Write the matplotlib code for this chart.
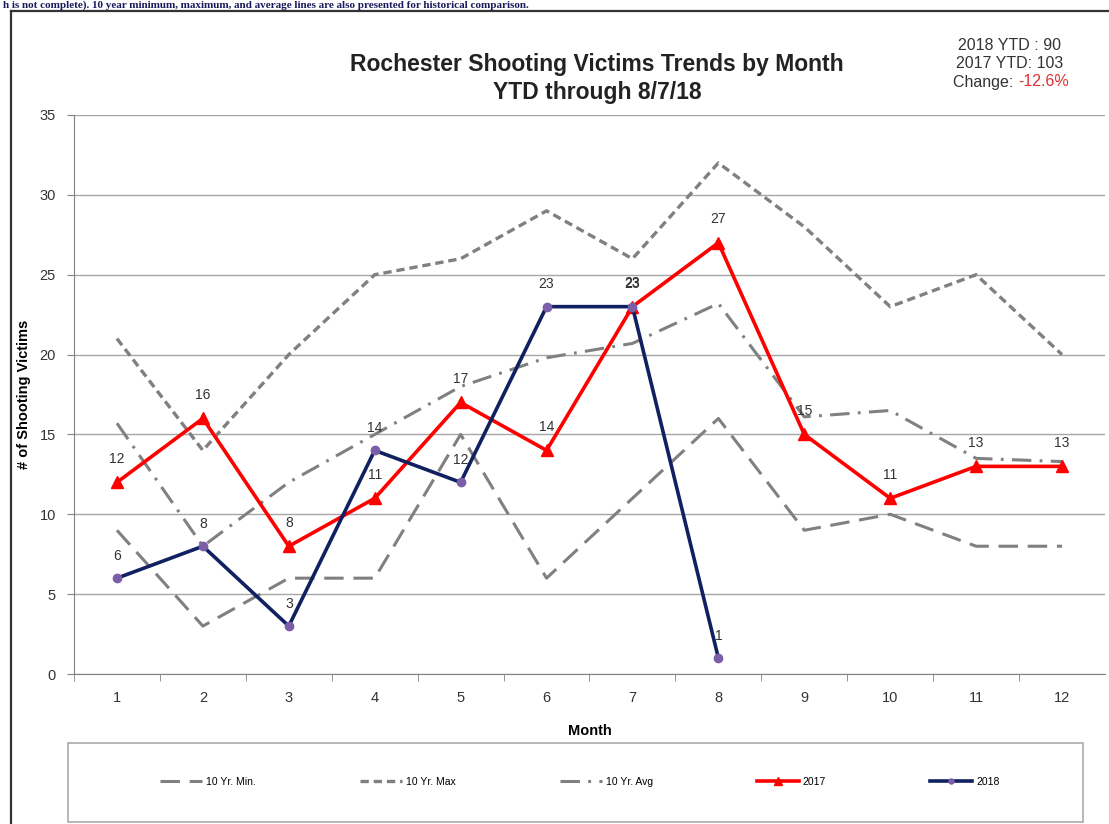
import matplotlib.pyplot as plt
from matplotlib.lines import Line2D
from matplotlib.patches import Rectangle

plt.rcParams['font.family'] = ['Liberation Sans', 'DejaVu Sans']
plt.rcParams['lines.scale_dashes'] = False

# data
months = [1, 2, 3, 4, 5, 6, 7, 8, 9, 10, 11, 12]
min10 = [9, 3, 6, 6, 15, 6, 11, 16, 9, 10, 8, 8]
max10 = [21, 14, 20, 25, 26, 29, 26, 32, 28, 23, 25, 20]
avg10 = [15.7, 8, 12, 15, 18, 19.8, 20.7, 23.2, 16.1, 16.5, 13.5, 13.3]
y2017 = [12, 16, 8, 11, 17, 14, 23, 27, 15, 11, 13, 13]
months_2018 = [1, 2, 3, 4, 5, 6, 7, 8]
y2018 = [6, 8, 3, 14, 12, 23, 23, 1]

fig = plt.figure(figsize=(11.09, 8.24), dpi=100)
ax = fig.add_axes([74/1109, 1-674/824, (1105-74)/1109, (674-115)/824])

grey = '#808080'
ax.plot(months, min10, color=grey, lw=2.2, dashes=(14, 7), label='10 Yr. Min.', zorder=2)
ax.plot(months, max10, color=grey, lw=2.4, dashes=(6, 3.5), label='10 Yr. Max', zorder=2)
ax.plot(months, avg10, color=grey, lw=2.2, dashes=(14, 6, 2, 6), label='10 Yr. Avg', zorder=2)
ax.plot(months, y2017, color='#ff0000', lw=2.6, marker='^', ms=9, mec='#ff0000',
        label='2017', zorder=3)
ax.plot(months_2018, y2018, color='#102060', lw=2.6, marker='o', ms=6,
        mfc='#7a5fa8', mec='#7a5fa8', label='2018', zorder=4)

for x, v in zip(months, y2017):
    ax.annotate(str(v), (x, v), xytext=(0, 17), textcoords='offset points',
                ha='center', va='center', fontsize=10, color='#333333')
for x, v in zip(months_2018, y2018):
    ax.annotate(str(v), (x, v), xytext=(0, 16), textcoords='offset points',
                ha='center', va='center', fontsize=10, color='#333333')

ax.set_xlim(0.5, 12.5)
ax.set_ylim(0, 35)
ax.set_yticks(range(0, 36, 5))
ax.set_xticks(months)
ax.set_xticks([m + 0.5 for m in range(0, 12)], minor=True)
ax.tick_params(axis='x', which='major', length=0, pad=12, labelsize=10.5, labelcolor='#333333')
ax.tick_params(axis='x', which='minor', length=5, color=grey, direction='out')
ax.tick_params(axis='y', length=5, color=grey, labelsize=10.5, labelcolor='#333333', pad=8)
ax.grid(axis='y', color='#a6a6a6', lw=1)
ax.set_axisbelow(True)
for s in ['top', 'right']:
    ax.spines[s].set_visible(False)
for s in ['left', 'bottom']:
    ax.spines[s].set_color(grey)
ax.set_xlabel('Month', fontsize=10.5, fontweight='bold', labelpad=14)
ax.set_ylabel('# of Shooting Victims', fontsize=10.5, fontweight='bold', labelpad=6)

fig.text(597/1109, 1-65/824, 'Rochester Shooting Victims Trends by Month',
         ha='center', va='center', fontsize=16.5, fontweight='bold', color='#222222')
fig.text(597/1109, 1-93/824, 'YTD through 8/7/18',
         ha='center', va='center', fontsize=16.5, fontweight='bold', color='#222222')

fig.text(1010/1109, 1-45/824, '2018 YTD : 90', ha='center', va='center', fontsize=11.5, color='#333333')
fig.text(1010/1109, 1-63/824, '2017 YTD: 103', ha='center', va='center', fontsize=11.5, color='#333333')
fig.text(1018/1109, 1-82/824, 'Change: ', ha='right', va='center', fontsize=11.5, color='#333333')
fig.text(1018/1109, 1-82/824, '-12.6%', ha='left', va='center', fontsize=11.5, color='#e03030')

# line of text above the chart frame
fig.text(0.003, 1.0, 'h is not complete). 10 year minimum, maximum, and average lines are also presented for historical comparison.',
         ha='left', va='top', fontsize=8, family='Liberation Serif', fontweight='bold',
         color='#1a1a5c')

# chart frame
fig.add_artist(Line2D([11/1109, 11/1109], [0, 1-11/824], color='#333333', lw=1.6))
fig.add_artist(Line2D([11/1109, 1], [1-11/824, 1-11/824], color='#333333', lw=1.6))

# legend box
fig.add_artist(Rectangle((68/1109, 1-822/824), (1083-68)/1109, (822-743)/824,
                         transform=fig.transFigure, fill=False, ec='#aaaaaa', lw=1.2))
handles, labels = ax.get_legend_handles_labels()
fig.legend(handles, labels, loc='center', bbox_to_anchor=(580/1109, 1-782/824),
           ncol=5, frameon=False, fontsize=7.5, handlelength=4, columnspacing=10,
           handletextpad=0.4, markerscale=0.6)

fig.savefig('out.png', dpi=100)
